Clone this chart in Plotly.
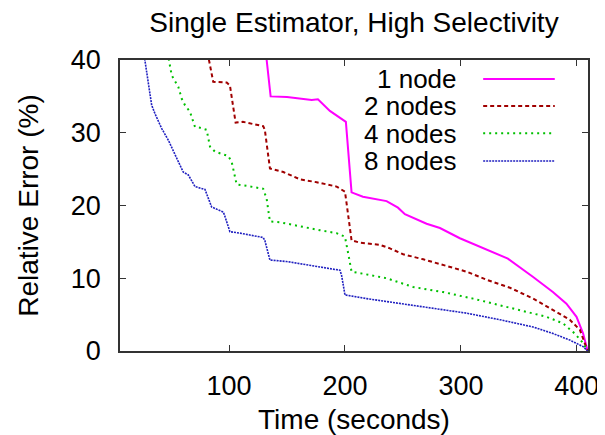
import plotly.graph_objects as go

# ---- data ----
one_t = [131.8, 135.9, 150.0, 171.3, 176.7, 187.0, 200.8, 205.7, 215.5, 235.9, 245.7, 251.7,
         270.4, 281.9, 299.1, 322.1, 340.5, 362.0, 379.3, 391.0, 399.7, 405.4, 408.3, 409.3]
one_e = [41.0, 35.0, 34.9, 34.5, 34.6, 33.0, 31.5, 21.8, 21.2, 20.6, 19.7, 18.8,
         17.5, 16.9, 15.5, 13.9, 12.7, 10.2, 8.1, 6.5, 4.7, 2.4, 0.6, 0.0]

two_t = [81.5, 86.4, 98.0, 100.8, 105.7, 112.0, 129.5, 130.9, 135.3, 146.8, 161.2, 175.6,
         192.8, 200.0, 201.4, 205.7, 212.9, 230.1, 238.8, 250.2, 267.5, 284.7, 304.9, 322.1,
         342.2, 362.3, 379.5, 393.9, 402.6, 406.9, 409.3]
two_e = [41.0, 37.0, 36.9, 36.5, 31.4, 31.5, 30.9, 30.4, 25.1, 24.6, 23.6, 23.2,
         22.6, 21.9, 20.3, 15.2, 14.9, 14.6, 14.1, 13.3, 12.6, 11.8, 10.9, 9.8,
         8.7, 7.2, 5.6, 4.3, 2.9, 1.1, 0.0]

four_t = [47.0, 50.6, 56.3, 59.2, 62.0, 66.3, 70.7, 74.9, 80.7, 83.6, 87.9, 99.4, 102.3,
          106.6, 115.2, 129.5, 132.5, 135.3, 143.9, 158.3, 178.4, 192.8, 200.0, 202.8, 205.7,
          212.9, 235.9, 258.8, 284.7, 310.5, 333.6, 356.6, 373.8, 388.1, 398.2, 405.4, 409.3]
four_e = [41.0, 37.9, 36.3, 34.7, 33.8, 32.9, 30.8, 30.7, 30.4, 28.1, 27.4, 26.8, 26.0,
          22.9, 22.7, 22.3, 20.9, 17.8, 17.7, 17.2, 16.6, 16.2, 15.7, 13.4, 10.9,
          10.7, 10.0, 8.8, 8.1, 7.2, 6.3, 5.4, 4.7, 3.8, 2.4, 1.1, 0.0]

eight_t = [26.5, 30.4, 33.3, 36.2, 41.9, 47.6, 53.4, 57.7, 60.5, 64.9, 67.8, 70.7, 79.3,
           82.1, 85.0, 90.7, 95.1, 96.5, 100.8, 109.4, 129.5, 130.9, 135.3, 149.7, 161.2,
           178.4, 195.7, 197.1, 200.0, 218.7, 247.4, 276.1, 304.9, 333.6, 362.3, 379.5,
           393.9, 405.4, 409.3]
eight_e = [41.0, 37.2, 33.8, 32.6, 30.6, 29.0, 27.1, 25.5, 24.6, 24.2, 23.3, 22.6, 22.2,
           21.0, 19.8, 19.4, 19.1, 18.5, 16.4, 16.2, 15.6, 15.2, 12.5, 12.3, 12.0,
           11.5, 11.1, 10.4, 7.7, 7.2, 6.5, 5.9, 5.2, 4.3, 3.3, 2.4,
           1.5, 0.6, 0.0]

series_names = ["1 node", "2 nodes", "4 nodes", "8 nodes"]
series_t = [one_t, two_t, four_t, eight_t]
series_e = [one_e, two_e, four_e, eight_e]

x_ticks = [100, 200, 300, 400]
y_ticks = [0, 10, 20, 30, 40]

# ---- styles ----
colors = ["#ff00ff", "#a00000", "#00c000", "#2020c0"]
dashes = ["solid", "4px,3px", "2px,4px", "2px,1px"]
widths = [2, 2, 2, 1.6]

FONT = "Liberation Sans, Arial, Helvetica, sans-serif"

# page body has an 8px default margin; size the figure to compensate
W, H = 597, 427

fig = go.Figure()
for name, t, e, c, d, w in zip(series_names, series_t, series_e, colors, dashes, widths):
    fig.add_trace(go.Scatter(x=t, y=e, mode="lines", name=name,
                             line=dict(color=c, dash=d, width=w), showlegend=False))

# gnuplot-style key: right-aligned text, sample line to the right
key_y = [0.935, 0.842, 0.748, 0.653]
for name, c, d, w, ky in zip(series_names, colors, dashes, widths, key_y):
    fig.add_annotation(xref="paper", yref="paper", x=0.722, y=ky, text=name,
                       showarrow=False, xanchor="right", yanchor="middle",
                       height=25, borderpad=0,
                       font=dict(family=FONT, size=26, color="black"))
    fig.add_shape(type="line", xref="paper", yref="paper", x0=0.776, x1=0.929,
                  y0=ky, y1=ky, line=dict(color=c, dash=d, width=w))

axis_common = dict(showline=True, linecolor="#333333", linewidth=1.5, mirror="ticks",
                   ticks="inside", ticklen=6, tickwidth=1.2, tickcolor="#333333",
                   showgrid=False, zeroline=False, automargin=False,
                   tickfont=dict(family=FONT, size=27, color="black"))

fig.update_layout(
    width=W, height=H,
    margin=dict(l=112, r=17, t=52, b=84, pad=0),
    paper_bgcolor="white", plot_bgcolor="white",
    font=dict(family=FONT, size=26, color="black"),
    title=dict(text="Single Estimator, High Selectivity", x=0.5, xref="paper",
               y=1 - 14 / H, yref="container", xanchor="center", yanchor="middle",
               automargin=False,
               font=dict(family=FONT, size=28, color="black")),
    xaxis=dict(range=[6, 409.6], tickvals=x_ticks, ticklabelstandoff=10,
               title=dict(text="Time (seconds)", standoff=12,
                          font=dict(family=FONT, size=28, color="black")),
               **axis_common),
    yaxis=dict(range=[0, 40], tickvals=y_ticks, ticklabelstandoff=12,
               title=dict(text="Relative Error (%)", standoff=24,
                          font=dict(family=FONT, size=28, color="black")),
               **axis_common),
)

fig.write_html("out.html")
